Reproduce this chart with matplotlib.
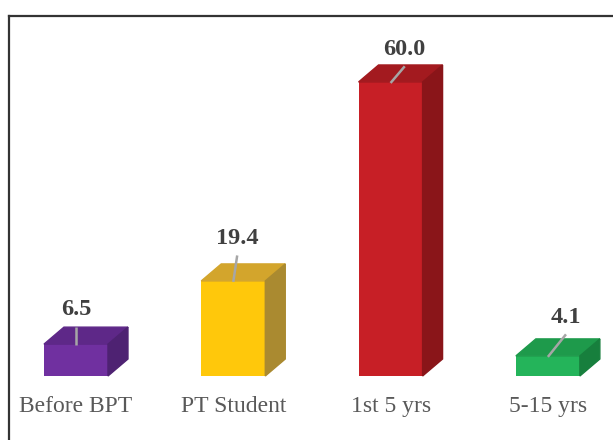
import matplotlib.pyplot as plt
from matplotlib.patches import Polygon
from matplotlib.lines import Line2D

# data
categorias = ['Before BPT', 'PT Student', '1st 5 yrs', '5-15 yrs']
valores = [6.5, 19.4, 60.0, 4.1]
cor_frente = ['#7030A0', '#FFC80B', '#C71F26', '#24B45A']
cor_topo = ['#5E2888', '#D3A52C', '#A31A1F', '#1E9A4B']
cor_lado = ['#4E2272', '#AA8A30', '#8A1519', '#177F3D']
# posicao dos rotulos em relacao ao topo da barra (x, y)
desloc_x = [0.0, 0.025, 0.09, 0.115]
desloc_y = [7.0, 8.6, 6.6, 7.8]

plt.rcParams['font.family'] = ['Liberation Serif', 'DejaVu Serif']

fig = plt.figure(figsize=(6.13, 4.40), dpi=100)
ax = fig.add_axes([0, 0, 1, 1])
ax.set_xlim(-0.483, 3.414)
ax.set_ylim(-13.06, 76.73)
ax.axis('off')

largura = 0.407
dx = 0.127   # profundidade 3D
dy = 3.47

for i, v in enumerate(valores):
    x0 = i - largura / 2
    x1 = i + largura / 2
    ax.bar(i, v, width=largura, color=cor_frente[i], zorder=2)
    topo = [(x0, v), (x1, v), (x1 + dx, v + dy), (x0 + dx, v + dy)]
    lado = [(x1, 0), (x1 + dx, dy), (x1 + dx, v + dy), (x1, v)]
    ax.add_patch(Polygon(topo, closed=True, color=cor_topo[i], zorder=2))
    ax.add_patch(Polygon(lado, closed=True, color=cor_lado[i], zorder=2))

    xr = i + desloc_x[i]
    ax.plot([i, xr], [v - 0.2, v + desloc_y[i] - 3.4], color='#A6A6A6',
            lw=1.8, zorder=3, solid_capstyle='butt')
    ax.text(xr, v + desloc_y[i], f'{v:.1f}', ha='center', va='center',
            fontsize=17.5, fontweight='bold', color='#404040')
    ax.text(i, -6.2, categorias[i], ha='center', va='center',
            fontsize=17, color='#595959')

# moldura (so topo e esquerda aparecem)
fig.add_artist(Line2D([9 / 613, 9 / 613], [0, 1 - 16 / 440],
                      transform=fig.transFigure, color='#333333', lw=1.6))
fig.add_artist(Line2D([9 / 613, 1], [1 - 16 / 440, 1 - 16 / 440],
                      transform=fig.transFigure, color='#333333', lw=1.6))

fig.savefig('out.png', dpi=100)
